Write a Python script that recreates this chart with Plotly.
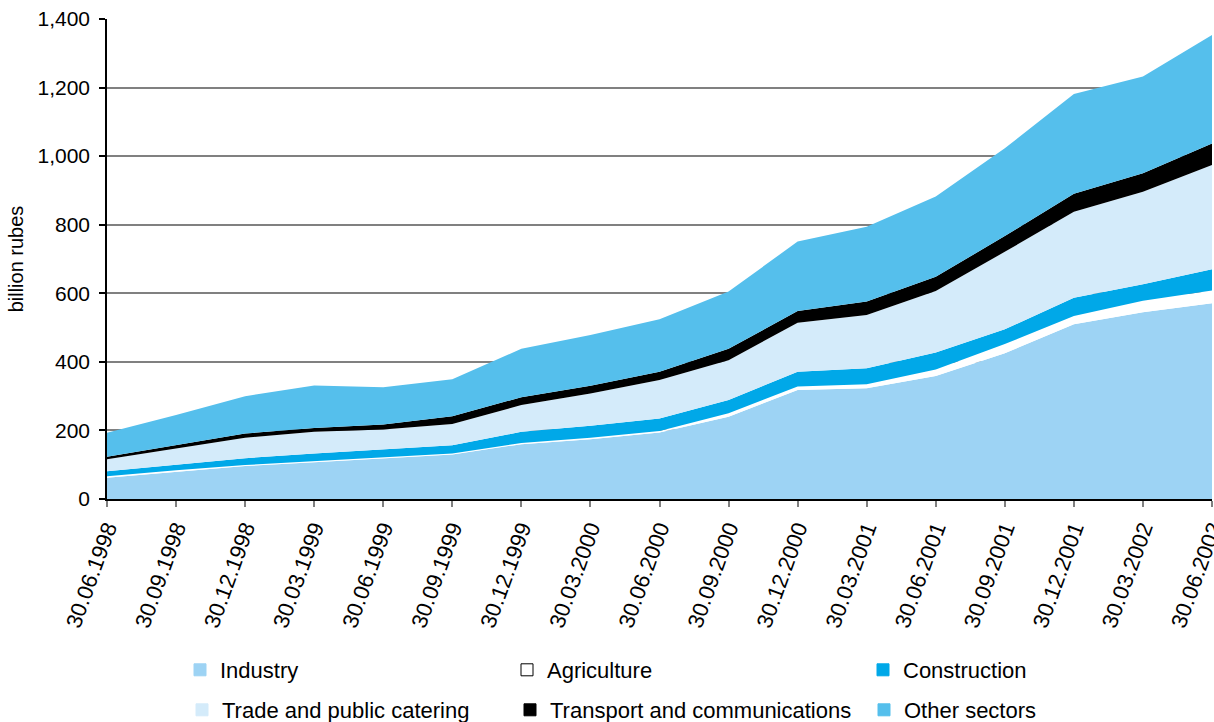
import plotly.graph_objects as go

# quarter-end reporting dates
dates = [
    "30.06.1998", "30.09.1998", "30.12.1998", "30.03.1999", "30.06.1999",
    "30.09.1999", "30.12.1999", "30.03.2000", "30.06.2000", "30.09.2000",
    "30.12.2000", "30.03.2001", "30.06.2001", "30.09.2001", "30.12.2001",
    "30.03.2002", "30.06.2002",
]

# billion rubles
industry = [62, 80, 96, 107, 118, 130, 160, 174, 194, 240, 318, 323, 359, 425, 510, 545, 571]
agriculture = [4, 4, 3, 4, 4, 3, 3, 5, 4, 10, 10, 12, 19, 27, 24, 33, 37]
construction = [15, 17, 20, 22, 23, 24, 33, 35, 37, 39, 43, 46, 49, 43, 53, 48, 62]
trade = [35, 47, 60, 63, 58, 62, 78, 94, 112, 116, 143, 156, 180, 226, 251, 270, 304]
transport = [7, 9, 12, 11, 14, 22, 23, 22, 24, 33, 34, 39, 41, 46, 52, 54, 63]
other = [70, 88, 109, 124, 109, 108, 141, 148, 153, 167, 203, 218, 234, 256, 291, 282, 316]

y_ticks = [0, 200, 400, 600, 800, 1000, 1200, 1400]

series = [
    ("Industry", industry, "#9dd3f4"),
    ("Agriculture", agriculture, "#ffffff"),
    ("Construction", construction, "#00a8e8"),
    ("Trade and public catering", trade, "#d4ebfa"),
    ("Transport and communications", transport, "#000000"),
    ("Other sectors", other, "#55bfec"),
]

FONT = "Liberation Sans, Arial, sans-serif"

fig = go.Figure()
for name, vals, col in series:
    fig.add_trace(go.Scatter(
        x=dates, y=vals, name=name, mode="lines", stackgroup="one",
        line=dict(width=0, color=col), fillcolor=col, showlegend=False,
        hoverinfo="skip",
    ))

# legend swatches: one legend box per entry so the grid matches the original
legend_pos = [
    (200, 670), (527, 670), (883, 670),
    (202, 710), (530, 710), (884, 710),
]
plot_l, plot_w, plot_b, plot_h = 107, 1105, 499, 480
for i, ((name, _, col), (sx, sy)) in enumerate(zip(series, legend_pos)):
    key = "legend" if i == 0 else f"legend{i + 1}"
    outline = "#000000" if col == "#ffffff" else col
    fig.add_trace(go.Scatter(
        x=[None], y=[None], name=name, mode="markers", legend=key,
        marker=dict(symbol="square", size=12, color=col, line=dict(color=outline, width=1)),
    ))
    fig.update_layout({key: dict(
        x=(sx - 20 - plot_l) / plot_w, y=(plot_b - sy) / plot_h,
        xanchor="left", yanchor="middle", bgcolor="rgba(0,0,0,0)",
        font=dict(family=FONT, size=22, color="#000000"),
    )})

fig.update_layout(
    width=1214, height=722,
    margin=dict(l=107, r=2, t=19, b=223, autoexpand=False),
    paper_bgcolor="#ffffff", plot_bgcolor="#ffffff",
    font=dict(family=FONT, size=21, color="#000000"),
    showlegend=True,
)
fig.update_xaxes(
    type="category", range=[0, len(dates) - 1], automargin=False,
    showline=True, linecolor="#000000", linewidth=1.5,
    ticks="outside", ticklen=6, tickcolor="#808080", tickwidth=1.5,
    tickangle=-70, tickfont=dict(size=22), showgrid=False, zeroline=False,
)
fig.update_yaxes(
    range=[0, 1400], tickvals=y_ticks, tickformat=",d", automargin=False,
    showline=True, linecolor="#000000", linewidth=1.5,
    ticks="outside", ticklen=6, tickcolor="#000000", tickwidth=1.5,
    ticklabelstandoff=5,
    showgrid=True, gridcolor="#808080", gridwidth=1.5, zeroline=False,
    title=dict(text="billion rubes", font=dict(size=20), standoff=8),
)

# the page body has a default 8px margin; drop it so the figure sits at 0,0
fig.write_html(
    "out.html",
    config={"displayModeBar": False},
    post_script="document.body.style.margin='0';",
)
